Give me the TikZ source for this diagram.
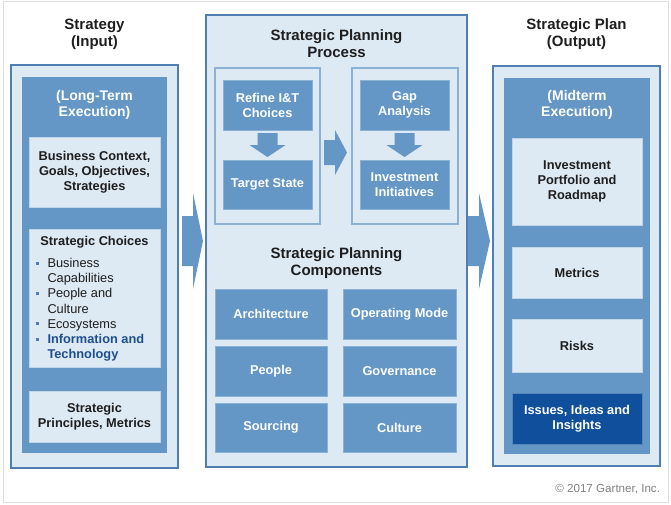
\documentclass[tikz,border=0pt]{standalone}
\usepackage{fontspec}
\setmainfont{Liberation Sans}
\definecolor{paleblue}{HTML}{DDE9F3}
\definecolor{midblue}{HTML}{6597C6}
\definecolor{edgeblue}{HTML}{4F7FB0}
\definecolor{deepblue}{HTML}{0F4F9B}
\definecolor{inkgray}{HTML}{1E1E1E}
\definecolor{listblue}{HTML}{1F4E8C}
\newcommand\listmark{\makebox[11.5pt][l]{\textcolor{edgeblue}{\rule[3pt]{3pt}{3pt}}}}
\newcommand\listgap{\hspace*{11.5pt}}
\begin{document}
\begin{tikzpicture}[x=1pt,y=-1pt]
\tikzset{ outer sep=0pt,
  column/.style={draw=edgeblue, line width=1.2pt, fill=paleblue, inner sep=0pt},
  group/.style={draw=midblue!75!white, line width=1.2pt, inner sep=0pt},
  band/.style={fill=midblue, inner sep=0pt},
  card/.style={fill=paleblue, draw=midblue!25!paleblue, inner sep=0pt, align=center, text=inkgray, font=\bfseries\fontsize{12.8}{15}\selectfont},
  tile/.style={fill=midblue, draw=midblue!75!white, inner sep=0pt, align=center, text=white, font=\bfseries\fontsize{12.8}{15}\selectfont},
  heading/.style={inner sep=0pt, align=center, text=inkgray, font=\bfseries\fontsize{15}{17}\selectfont},
  bandtext/.style={inner sep=0pt, align=center, text=white, font=\bfseries\fontsize{14}{16}\selectfont},
  blockarrow/.style={fill=midblue},
}
\useasboundingbox (0,0) rectangle (671,504);
\draw [gray!25, line width=0.8pt] (3,1) rectangle (668,502);

% input column
\node [heading] (inputT) at (94.5,34) {Strategy\\(Input)};
\node [column, minimum width=167pt, minimum height=403pt] (input) at (94.5,266.5) {};
\node [band, minimum width=145pt, minimum height=376pt] (inputband) at (94.5,265) {};
\node [bandtext] (longT) at (94.5,105) {(Long-Term\\Execution)};
\node [card, minimum width=131pt, minimum height=70pt] (context) at (94.5,172) {Business Context,\\Goals, Objectives,\\Strategies};
\node [card, minimum width=131pt, minimum height=138pt] (choices) at (94.5,298) {};
\node [inner sep=0pt, text=inkgray, font=\bfseries\fontsize{12.8}{15}\selectfont] (choicesT) at (94.5,242) {Strategic Choices};
\node [inner sep=0pt, anchor=north west, align=left, text=inkgray, font=\fontsize{12.8}{15.2}\selectfont] (choicesL) at (36,258.3)
  {\listmark Business\\ \listgap Capabilities\\ \listmark People and\\ \listgap Culture\\ \listmark Ecosystems\\
   \listmark\textcolor{listblue}{\bfseries Information and}\\ \listgap\textcolor{listblue}{\bfseries Technology}};
\node [card, minimum width=131pt, minimum height=51pt] (principles) at (94.5,416.5) {Strategic\\Principles, Metrics};

% process column
\node [column, minimum width=261pt, minimum height=452pt] (process) at (336.5,241) {};
\node [heading] (processT) at (336.5,43.5) {Strategic Planning\\Process};
\node [group, minimum width=105pt, minimum height=156pt] (refinegroup) at (267.5,146) {};
\node [group, minimum width=106pt, minimum height=156pt] (gapgroup) at (405,146) {};
\node [tile, minimum width=89pt, minimum height=50pt] (refine) at (267.5,105) {Refine I\&T\\Choices};
\node [tile, minimum width=89pt, minimum height=49pt] (target) at (267.5,184.5) {Target State};
\node [tile, minimum width=89pt, minimum height=50pt] (gap) at (404.5,105) {Gap\\Analysis};
\node [tile, minimum width=89pt, minimum height=49pt] (invest) at (404.5,184.5) {Investment\\Initiatives};
\node [heading] (compT) at (336.5,263.5) {Strategic Planning\\Components};
\node [tile, minimum width=112pt, minimum height=50pt] (arch) at (271,314) {Architecture};
\node [tile, minimum width=113pt, minimum height=50pt] (opmode) at (399.5,314) {Operating Mode};
\node [tile, minimum width=112pt, minimum height=50pt] (people) at (271,371) {People};
\node [tile, minimum width=113pt, minimum height=50pt] (govern) at (399.5,371) {Governance};
\node [tile, minimum width=112pt, minimum height=49pt] (sourcing) at (271,427.5) {Sourcing};
\node [tile, minimum width=113pt, minimum height=49pt] (culture) at (399.5,427.5) {Culture};

% plan column
\node [heading] (planT) at (576.5,34) {Strategic Plan\\(Output)};
\node [column, minimum width=167pt, minimum height=400pt] (plan) at (576.5,266) {};
\node [band, minimum width=146pt, minimum height=376pt] (planband) at (577,266) {};
\node [bandtext] (midT) at (577,105) {(Midterm\\Execution)};
\node [card, minimum width=130pt, minimum height=87pt] (portfolio) at (577,181.5) {Investment\\Portfolio and\\Roadmap};
\node [card, minimum width=130pt, minimum height=51pt] (metrics) at (577,272.5) {Metrics};
\node [card, minimum width=130pt, minimum height=53pt] (risks) at (577,345.5) {Risks};
\node [tile, fill=deepblue, draw=deepblue!70!white, minimum width=130pt, minimum height=51pt] (issues) at (577,418.5) {Issues, Ideas and\\Insights};

% arrows
\fill [blockarrow] (182,216) -- (193,216) -- (193,193) -- (203,241) -- (193,289) -- (193,266) -- (182,266) -- cycle;
\fill [blockarrow] (468,216) -- (479,216) -- (479,193) -- (490,241) -- (479,289) -- (479,266) -- (468,266) -- cycle;
\fill [blockarrow] (324,140) -- (335,140) -- (335,130) -- (347,152.5) -- (335,175) -- (335,165) -- (324,165) -- cycle;
\fill [blockarrow] (257.5,133) -- (277.5,133) -- (277.5,145) -- (285.5,145) -- (267.5,157) -- (249.5,145) -- (257.5,145) -- cycle;
\fill [blockarrow] (394.5,133) -- (414.5,133) -- (414.5,145) -- (422.5,145) -- (404.5,157) -- (386.5,145) -- (394.5,145) -- cycle;

\node [anchor=east, inner sep=0pt, text=gray, font=\fontsize{11.6}{13}\selectfont] (copyr) at (660,489) {© 2017 Gartner, Inc.};
\end{tikzpicture}
\end{document}
